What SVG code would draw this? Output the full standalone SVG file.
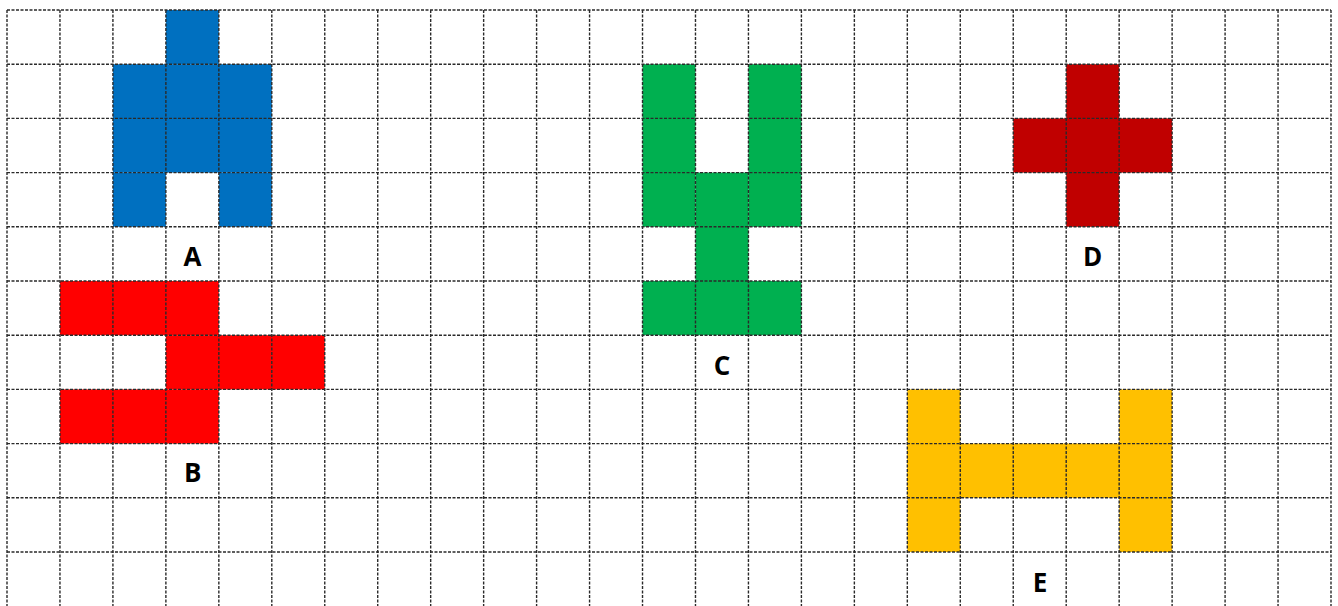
<svg xmlns="http://www.w3.org/2000/svg" width="1338" height="606" viewBox="0 0 1338 606">
<style>
.lbl{font-family:"Open Sans","Liberation Sans",Arial,sans-serif;font-weight:bold;font-size:26px;fill:#000;text-anchor:middle}
.grid line{stroke:#2a2a2a;stroke-width:1.4;stroke-dasharray:3 1.5}
.blue{fill:#0070C0}.red{fill:#FF0000}.green{fill:#00B050}.dred{fill:#C00000}.yel{fill:#FFC000}
</style>
<rect width="1338" height="606" fill="#fff"/>
<g id="shapeA" class="blue">
<rect x="165.88" y="10" width="52.96" height="54.2"/>
<rect x="112.92" y="64.2" width="158.88" height="108.4"/>
<rect x="112.92" y="172.6" width="52.96" height="54.2"/>
<rect x="218.84" y="172.6" width="52.96" height="54.2"/>
</g>
<g id="shapeB" class="red">
<rect x="59.96" y="281" width="158.88" height="54.2"/>
<rect x="165.88" y="335.2" width="158.88" height="54.2"/>
<rect x="59.96" y="389.4" width="158.88" height="54.2"/>
</g>
<g id="shapeC" class="green">
<rect x="642.52" y="64.2" width="52.96" height="162.6"/>
<rect x="748.44" y="64.2" width="52.96" height="162.6"/>
<rect x="695.48" y="172.6" width="52.96" height="108.4"/>
<rect x="642.52" y="281" width="158.88" height="54.2"/>
</g>
<g id="shapeD" class="dred">
<rect x="1066.2" y="64.2" width="52.96" height="162.6"/>
<rect x="1013.24" y="118.4" width="158.88" height="54.2"/>
</g>
<g id="shapeE" class="yel">
<rect x="907.32" y="389.4" width="52.96" height="162.6"/>
<rect x="1119.16" y="389.4" width="52.96" height="162.6"/>
<rect x="907.32" y="443.6" width="264.8" height="54.2"/>
</g>
<g class="grid">
<line x1="7" y1="10" x2="7" y2="606"/>
<line x1="59.96" y1="10" x2="59.96" y2="606"/>
<line x1="112.92" y1="10" x2="112.92" y2="606"/>
<line x1="165.88" y1="10" x2="165.88" y2="606"/>
<line x1="218.84" y1="10" x2="218.84" y2="606"/>
<line x1="271.8" y1="10" x2="271.8" y2="606"/>
<line x1="324.76" y1="10" x2="324.76" y2="606"/>
<line x1="377.72" y1="10" x2="377.72" y2="606"/>
<line x1="430.68" y1="10" x2="430.68" y2="606"/>
<line x1="483.64" y1="10" x2="483.64" y2="606"/>
<line x1="536.6" y1="10" x2="536.6" y2="606"/>
<line x1="589.56" y1="10" x2="589.56" y2="606"/>
<line x1="642.52" y1="10" x2="642.52" y2="606"/>
<line x1="695.48" y1="10" x2="695.48" y2="606"/>
<line x1="748.44" y1="10" x2="748.44" y2="606"/>
<line x1="801.4" y1="10" x2="801.4" y2="606"/>
<line x1="854.36" y1="10" x2="854.36" y2="606"/>
<line x1="907.32" y1="10" x2="907.32" y2="606"/>
<line x1="960.28" y1="10" x2="960.28" y2="606"/>
<line x1="1013.24" y1="10" x2="1013.24" y2="606"/>
<line x1="1066.2" y1="10" x2="1066.2" y2="606"/>
<line x1="1119.16" y1="10" x2="1119.16" y2="606"/>
<line x1="1172.12" y1="10" x2="1172.12" y2="606"/>
<line x1="1225.08" y1="10" x2="1225.08" y2="606"/>
<line x1="1278.04" y1="10" x2="1278.04" y2="606"/>
<line x1="1331" y1="10" x2="1331" y2="606"/>
<line x1="7" y1="10" x2="1331" y2="10"/>
<line x1="7" y1="64.2" x2="1331" y2="64.2"/>
<line x1="7" y1="118.4" x2="1331" y2="118.4"/>
<line x1="7" y1="172.6" x2="1331" y2="172.6"/>
<line x1="7" y1="226.8" x2="1331" y2="226.8"/>
<line x1="7" y1="281" x2="1331" y2="281"/>
<line x1="7" y1="335.2" x2="1331" y2="335.2"/>
<line x1="7" y1="389.4" x2="1331" y2="389.4"/>
<line x1="7" y1="443.6" x2="1331" y2="443.6"/>
<line x1="7" y1="497.8" x2="1331" y2="497.8"/>
<line x1="7" y1="552" x2="1331" y2="552"/>
</g>
<g id="labels">
<text class="lbl" x="192.4" y="266">A</text>
<text class="lbl" x="192.8" y="482">B</text>
<text class="lbl" x="722" y="375">C</text>
<text class="lbl" x="1092.7" y="266">D</text>
<text class="lbl" x="1040" y="592">E</text>
</g>
</svg>
